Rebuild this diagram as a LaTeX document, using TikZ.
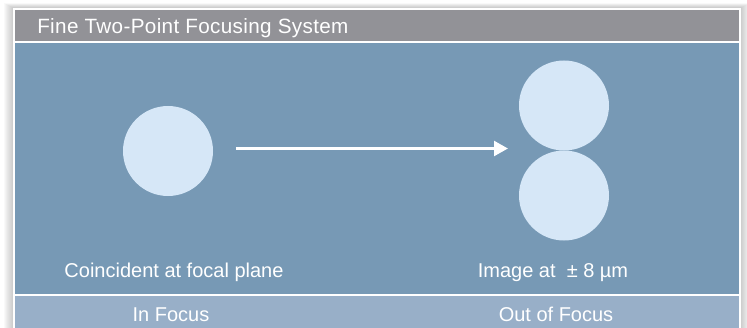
\documentclass[tikz,border=0pt]{standalone}
\usepackage{fontspec}
\setmainfont{Liberation Sans}
\newfontfamily\headfont[LetterSpace=1.7]{Liberation Sans}
\usetikzlibrary{arrows.meta}
\definecolor{headgray}{HTML}{929297}
\definecolor{panelblue}{HTML}{7799B5}
\definecolor{footblue}{HTML}{98AFC8}
\definecolor{spotblue}{HTML}{D6E7F7}
\tikzset{
  spot/.style={circle,fill=spotblue,minimum size=67.5pt,inner sep=0pt},
  caption/.style={text=white,inner sep=0pt,anchor=base,font=\fontsize{15}{17}\selectfont},
}

\begin{document}
\begin{tikzpicture}[x=0.75pt,y=-0.75pt]
    \useasboundingbox (0,0) rectangle (747,328);
    \clip (0,0) rectangle (747,328);
    % soft shadow round the frame
    \foreach \d in {1,...,9}
      \fill[black,opacity=0.025] (13-\d,8-0.5*\d) rectangle (741+\d,340);
    \fill[white] (13,8) rectangle (741,340);
    % bands
    \fill[headgray] (15,10) rectangle (739,41);
    \fill[panelblue] (15,43) rectangle (739,294);
    \fill[footblue] (15,296) rectangle (739,340);
    \node[text=white,inner sep=0pt,anchor=base west,font=\headfont\fontsize{15.5}{17}\selectfont]
      (title) at (37,34) {Fine Two-Point Focusing System};
    % spots
    \node[spot] (inf) at (168,151) {};
    \node[spot] (up) at (564,105.5) {};
    \node[spot] (low) at (564,195.5) {};
    \coordinate (mid) at (564,148.5);
    \draw[white,line width=2.4pt,-{Triangle[length=10.5pt,width=11pt]},shorten <=17pt,shorten >=42pt]
      (inf.east |- mid) -- (mid);
    % captions
    \node[caption] (c1) at (174,277) {Coincident at focal plane};
    \node[caption] (c2) at (553,277) {Image at \ \textpm\ 8 \textmu m};
    \node[caption] (f1) at (171,321.5) {In Focus};
    \node[caption] (f2) at (556,321.5) {Out of Focus};
\end{tikzpicture}
\end{document}
